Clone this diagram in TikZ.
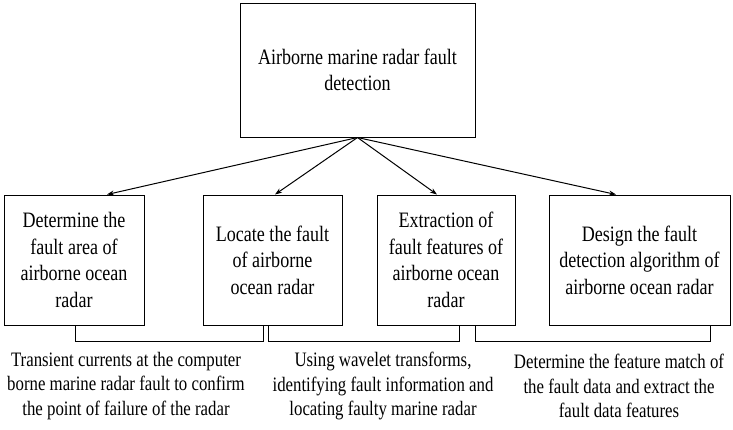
\documentclass[tikz,border=0pt]{standalone}
\usepackage{fontspec}
\setmainfont{Liberation Serif}[FakeStretch=0.82]
\usetikzlibrary{arrows.meta}

\begin{document}
\begin{tikzpicture}[x=1pt, y=-1pt, line width=1pt,
		box/.style={draw, align=center, inner sep=0pt, minimum height=130pt, font=\fontsize{22}{26.5}\selectfont},
		note/.style={align=center, inner sep=0pt, font=\fontsize{20.5}{24.3}\selectfont},
		arr/.style={-{Stealth[length=7pt,width=5pt]}}]
		\useasboundingbox (0,0) rectangle (733,429);
		%top
		\node[box, minimum width=235pt, minimum height=134pt] (top) at (357.5,70) {Airborne marine radar fault\\detection};
		%
		\node[box, minimum width=140pt] (det) at (74,260) {Determine the\\fault area of\\airborne ocean\\radar};
		\node[box, minimum width=139pt] (loc) at (272.5,260) {Locate the fault\\of airborne\\ocean radar};
		\node[box, minimum width=138pt] (ext) at (446,260) {Extraction of\\fault features of\\airborne ocean\\radar};
		\node[box, minimum width=181pt] (des) at (639.5,260) {Design the fault\\detection algorithm of\\airborne ocean radar};
		%pfeile
		\draw[arr] (top.south) -- ([xshift=33pt]det.north);
		\draw[arr] (top.south) -- ([xshift=2.5pt]loc.north);
		\draw[arr] (top.south) -- ([xshift=-9pt]ext.north);
		\draw[arr] (top.south) -- ([xshift=-23.5pt]des.north);
		%klammern
		\draw ([xshift=1pt]det.south) -- ++(0,16) -| ([xshift=-9.5pt]loc.south);
		\draw ([xshift=-4.5pt]loc.south) -- ++(0,16) -| ([xshift=13pt]ext.south);
		\draw ([xshift=29pt]ext.south) -- ++(0,16) -| ([xshift=70.5pt]des.south);
		%texte
		\node[note] (cur) at (126,386) {Transient currents at the computer\\borne marine radar fault to confirm\\the point of failure of the radar};
		\node[note] (wav) at (383,386) {Using wavelet transforms,\\identifying fault information and\\locating faulty marine radar};
		\node[note] (mat) at (619,386) {Determine the feature match of\\the fault data and extract the\\fault data features};
	\end{tikzpicture}
\end{document}
